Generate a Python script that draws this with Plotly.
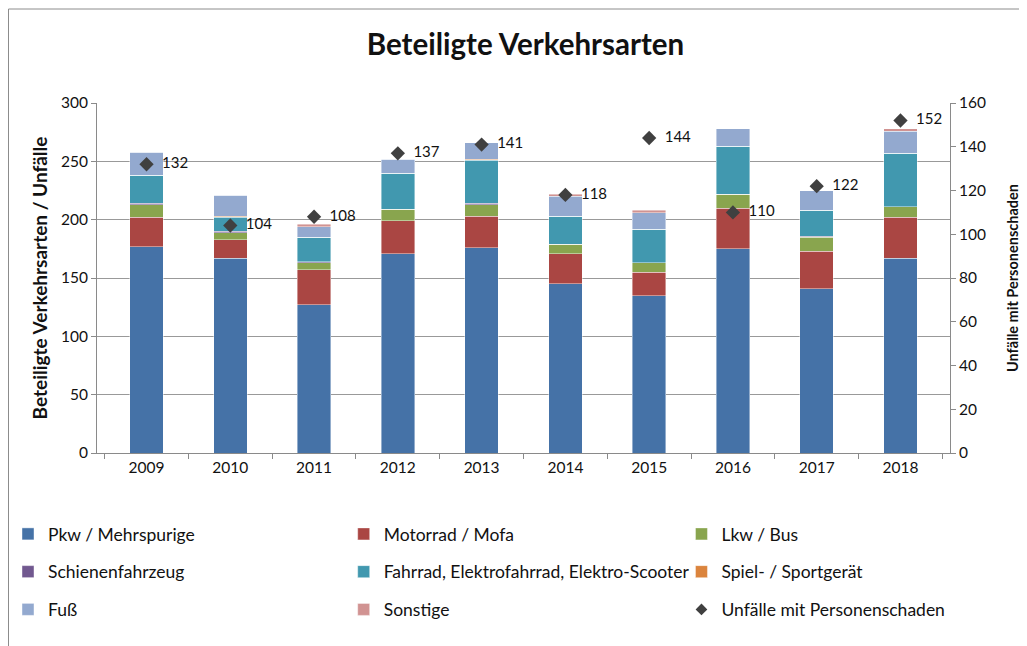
import plotly.graph_objects as go

# Daten
jahre = ["2009", "2010", "2011", "2012", "2013", "2014", "2015", "2016", "2017", "2018"]
pkw = [177, 167, 127, 171, 176, 145, 135, 175, 141, 167]
motorrad = [25, 16, 30, 28, 27, 26, 20, 35, 32, 35]
lkw = [11, 6, 6, 10, 10, 8, 8, 12, 12, 9]
schienen = [1, 1, 1, 0, 1, 0, 0, 0, 1, 0]
fahrrad = [24, 12, 21, 31, 37, 24, 29, 41, 22, 46]
spiel = [0, 1, 0, 0, 1, 0, 0, 0, 0, 0]
fuss = [20, 18, 9, 12, 14, 17, 14, 15, 17, 19]
sonstige = [0, 0, 2, 0, 0, 2, 2, 0, 0, 2]
unfaelle = [132, 104, 108, 137, 141, 118, 144, 110, 122, 152]

FONT = "Lato"

# name, werte, farbe, legende (spalte)
serien = [
    ("Pkw / Mehrspurige", pkw, "#4572A7", "legend"),
    ("Motorrad / Mofa", motorrad, "#AA4643", "legend2"),
    ("Lkw / Bus", lkw, "#89A54E", "legend3"),
    ("Schienenfahrzeug", schienen, "#71588F", "legend"),
    ("Fahrrad, Elektrofahrrad, Elektro-Scooter", fahrrad, "#4198AF", "legend2"),
    ("Spiel- / Sportgerät", spiel, "#DB843D", "legend3"),
    ("Fuß", fuss, "#93A9CF", "legend"),
    ("Sonstige", sonstige, "#D19392", "legend2"),
]

fig = go.Figure()
for name, werte, farbe, leg in serien:
    fig.add_trace(go.Bar(
        x=jahre, y=werte, name=name, legend=leg, legendgroup=name,
        marker=dict(color=farbe, line=dict(color="rgba(255,255,255,0.7)", width=0.6)),
    ))

# Unfälle mit Personenschaden (rechte Achse)
fig.add_trace(go.Scatter(
    x=jahre, y=unfaelle, yaxis="y2", mode="markers+text",
    text=["\u00a0\u00a0" + str(v) for v in unfaelle], textposition="middle right",
    textfont=dict(family=FONT, size=15, color="#111111"),
    marker=dict(symbol="diamond", size=11, color="#404040"),
    showlegend=False,
))
fig.add_trace(go.Scatter(
    x=[None], y=[None], yaxis="y2", mode="markers", name="Unfälle mit Personenschaden",
    legend="legend3", legendgroup="unf",
    marker=dict(symbol="diamond", size=9, color="#404040"),
))

# Seite hat 8px Rand -> Plotbereich um 8px nach links/oben versetzt
L, R, T, B = 89, 85, 95, 201
W, H = 1027 - L - R, 646 - T - B

achse = "#8a8a8a"
leg_style = dict(orientation="v", yanchor="top", xanchor="left", y=-0.18,
                 font=dict(family=FONT, size=17.5, color="#111111"),
                 tracegroupgap=12, traceorder="grouped", bgcolor="rgba(0,0,0,0)")

fig.update_layout(
    width=1027, height=646,
    margin=dict(l=L, r=R, t=T, b=B, autoexpand=False),
    paper_bgcolor="white", plot_bgcolor="white",
    barmode="stack", bargap=0.6,
    font=dict(family=FONT, size=15, color="#111111"),
    title=dict(text="<b>Beteiligte Verkehrsarten</b>", x=0.5 + 4 / 1027, xanchor="center",
               y=1 - 37 / 646, yanchor="middle",
               font=dict(family=FONT, size=29.5, color="#111111")),
    xaxis=dict(type="category", showline=True, linecolor=achse, linewidth=1,
               ticks="outside", tickson="boundaries", ticklen=5, tickcolor=achse,
               tickfont=dict(size=15.5)),
    yaxis=dict(range=[0, 300], dtick=50, showgrid=True, gridcolor="#999999", gridwidth=1,
               showline=True, linecolor=achse, ticks="outside", ticklen=5, tickcolor=achse,
               zeroline=False, tickfont=dict(size=15.5),
               title=dict(text="<b>Beteiligte Verkehrsarten / Unfälle</b>",
                          font=dict(size=19), standoff=8)),
    yaxis2=dict(range=[0, 160], dtick=20, overlaying="y", side="right", showgrid=False,
                showline=True, linecolor=achse, ticks="outside", ticklen=5, tickcolor=achse,
                zeroline=False, tickfont=dict(size=15.5),
                title=dict(text="<b>Unfälle mit Personenschaden</b>",
                           font=dict(size=14.5), standoff=22)),
    legend=dict(leg_style, x=-L / W),
    legend2=dict(leg_style, x=0.2892),
    legend3=dict(leg_style, x=0.6852),
)

# Rahmen des Diagrammbereichs
fig.add_shape(type="rect", xref="paper", yref="paper",
              x0=(0.5 - L) / W, x1=(1040 - L) / W,
              y0=-(670 - (646 - B)) / H, y1=(646 - B - 1) / H,
              line=dict(color="#8c8c8c", width=1), layer="below")

fig.write_html("out.html")
